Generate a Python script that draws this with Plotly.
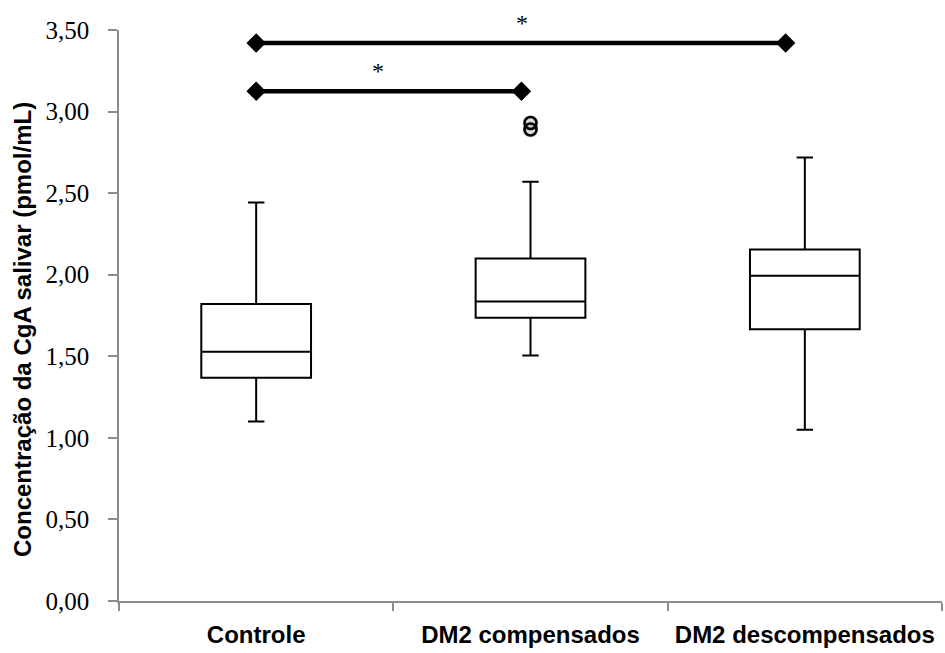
import plotly.graph_objects as go

categories = ["Controle", "DM2 compensados", "DM2 descompensados"]
positions = [0, 1, 2]
lower_whisker = [1.10, 1.505, 1.05]
q1 = [1.368, 1.736, 1.665]
median = [1.528, 1.836, 1.994]
q3 = [1.820, 2.100, 2.155]
upper_whisker = [2.443, 2.570, 2.719]

outlier_x = [1, 1]
outlier_y = [2.93, 2.89]

sig_upper_x = [0, 1.93]
sig_upper_y = [3.42, 3.42]
sig_lower_x = [0, 0.967]
sig_lower_y = [3.125, 3.125]
star_x = [0.97, 0.445]
star_y = [3.42, 3.125]   # asterisks sit just above each significance bar
star_text = ["*", "*"]

ytick_vals = [0, 0.5, 1.0, 1.5, 2.0, 2.5, 3.0, 3.5]

fig = go.Figure()

fig.add_trace(go.Box(
    x=positions, q1=q1, median=median, q3=q3,
    lowerfence=lower_whisker, upperfence=upper_whisker,
    width=0.4, whiskerwidth=0.15, boxpoints=False,
    line=dict(color="black", width=2), fillcolor="white",
    showlegend=False, hoverinfo="skip",
))

# soft shadow of outliers
fig.add_trace(go.Scatter(
    x=outlier_x, y=outlier_y, mode="markers",
    marker=dict(symbol="circle", size=16, color="rgba(0,0,0,0.12)", line=dict(width=0)),
    showlegend=False, hoverinfo="skip", cliponaxis=False,
))
fig.add_trace(go.Scatter(
    x=outlier_x, y=outlier_y, mode="markers",
    marker=dict(symbol="circle-open", size=12, color="black", line=dict(width=2.6, color="black")),
    showlegend=False, hoverinfo="skip", cliponaxis=False,
))

for sx, sy in [(sig_upper_x, sig_upper_y), (sig_lower_x, sig_lower_y)]:
    fig.add_trace(go.Scatter(
        x=sx, y=sy, mode="lines+markers",
        line=dict(color="black", width=4.5),
        marker=dict(symbol="diamond", size=15, color="black"),
        showlegend=False, hoverinfo="skip", cliponaxis=False,
    ))

axis_gray = "#8c8c8c"

annotations = [
    dict(text=t, x=sx, y=sy, xref="x", yref="y", showarrow=False, yshift=20,
         xanchor="center", yanchor="middle",
         font=dict(family="Liberation Serif", size=24, color="black"))
    for t, sx, sy in zip(star_text, star_x, star_y)
]
annotations.append(dict(
    text="Concentração da CgA salivar (pmol/mL)", textangle=-90,
    xref="paper", yref="paper", x=(22 - 119) / 823, y=(601 - 330) / 571,
    xanchor="center", yanchor="middle", showarrow=False,
    font=dict(family="Liberation Sans", size=24, color="black", weight="bold"),
))

fig.update_layout(
    width=945, height=653,
    margin=dict(l=119, r=3, t=30, b=52, pad=0),
    paper_bgcolor="white", plot_bgcolor="white",
    separators=",.",
    xaxis=dict(
        range=[-0.5, 2.5], tickmode="array", tickvals=positions, ticktext=categories,
        ticks="", showgrid=False, zeroline=False,
        showline=True, linecolor=axis_gray, linewidth=1.5,
        tickfont=dict(family="Liberation Sans", size=24, color="black", weight="bold"),
        ticklabelstandoff=11,
        minor=dict(tick0=-0.5, dtick=1, ticks="outside", ticklen=8, tickwidth=1.5,
                   tickcolor=axis_gray, showgrid=False),
    ),
    yaxis=dict(
        range=[0, 3.5], tickmode="array", tickvals=ytick_vals, tickformat=".2f",
        ticks="outside", ticklen=9, tickwidth=1.5, tickcolor=axis_gray,
        showgrid=False, zeroline=False,
        showline=True, linecolor=axis_gray, linewidth=1.5,
        tickfont=dict(family="Liberation Serif", size=25, color="black"),
        ticklabelstandoff=14,
    ),
    annotations=annotations,
)

fig.write_html("out.html")
